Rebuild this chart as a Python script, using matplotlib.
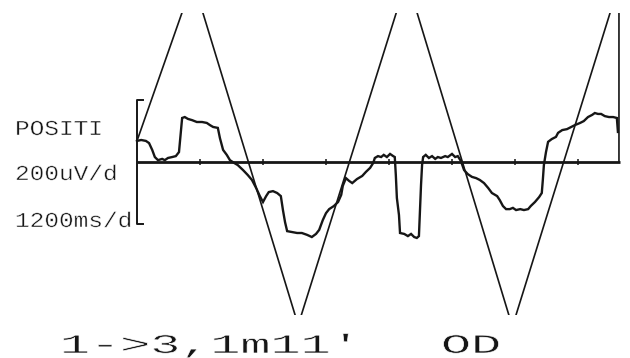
import matplotlib
matplotlib.use("Agg")
import matplotlib.pyplot as plt
from matplotlib.patheffects import AbstractPathEffect
from matplotlib.transforms import Affine2D

# Sweep settings
SWEEP_S = 9.2            # seconds shown across the trace
DIV_S = 1.2              # 1200 ms per division
DIV_UV = 200.0           # 200 uV per division

# Target (triangle sweep) vertices, seconds / microvolts
target_t = [0.00, 1.07, 3.07, 5.14, 7.15, 9.18, 9.18]
target_uv = [68, 584, -526, 590, -531, 573, 0]

# Recorded position trace, seconds / microvolts
eye_t = [0.00, 0.08, 0.17, 0.23, 0.29, 0.34, 0.40, 0.48, 0.53, 0.59,
         0.67, 0.74, 0.80, 0.84, 0.86, 0.91, 0.97, 1.05, 1.14, 1.24,
         1.33, 1.39, 1.45, 1.54, 1.58, 1.64, 1.71, 1.77, 1.85, 1.92,
         2.02, 2.11, 2.19, 2.27, 2.34, 2.40, 2.46, 2.51, 2.59, 2.67,
         2.74, 2.78, 2.82, 2.86, 2.95, 3.05, 3.14, 3.24, 3.33, 3.41,
         3.47, 3.54, 3.60, 3.66, 3.75, 3.83, 3.89, 3.92, 3.98, 4.04,
         4.10, 4.19, 4.29, 4.36, 4.44, 4.50, 4.53, 4.59, 4.65, 4.70,
         4.76, 4.82, 4.88, 4.91, 4.93, 4.95, 4.99, 5.01, 5.09, 5.16,
         5.22, 5.28, 5.33, 5.37, 5.39, 5.41, 5.43, 5.45, 5.50, 5.56,
         5.62, 5.68, 5.73, 5.79, 5.87, 5.92, 6.00, 6.06, 6.11, 6.17,
         6.23, 6.30, 6.38, 6.46, 6.53, 6.61, 6.69, 6.76, 6.86, 6.91,
         6.97, 7.03, 7.10, 7.16, 7.22, 7.30, 7.37, 7.45, 7.50, 7.58,
         7.66, 7.71, 7.73, 7.75, 7.79, 7.83, 7.90, 7.98, 8.02, 8.10,
         8.19, 8.27, 8.34, 8.44, 8.51, 8.59, 8.67, 8.72, 8.78, 8.84,
         8.91, 8.99, 9.07, 9.14, 9.16]
eye_uv = [68, 71, 68, 61, 39, 16, 6, 10, 6, 13,
          16, 19, 32, 103, 142, 145, 139, 135, 129, 129,
          126, 119, 113, 110, 77, 39, 23, 6, -3, -10,
          -26, -42, -58, -84, -110, -129, -110, -97, -94, -100,
          -110, -155, -194, -223, -226, -229, -229, -235, -242, -232,
          -219, -187, -165, -152, -142, -129, -106, -77, -52, -61,
          -68, -55, -45, -32, -19, -3, 13, 19, 16, 23,
          16, 26, 19, 16, -42, -116, -171, -229, -232, -239,
          -232, -242, -245, -239, -155, -74, -10, 16, 23, 13,
          19, 10, 16, 13, 19, 16, 26, 16, 19, 3,
          -26, -39, -48, -52, -58, -68, -84, -100, -110, -123,
          -142, -152, -152, -148, -155, -152, -155, -152, -142, -129,
          -113, -100, -58, -10, 32, 65, 74, 81, 94, 103,
          106, 113, 119, 126, 132, 145, 152, 158, 155, 155,
          148, 145, 145, 142, 97]

tick_t = [DIV_S * k for k in range(1, 8)]

side_labels = ["POSITI", "200uV/d", "1200ms/d"]
bottom_left = "1->3,1m11'"
bottom_right = "OD"

INK = "#161616"
MONO = ["Liberation Mono", "DejaVu Sans Mono"]


class Widen(AbstractPathEffect):
    """Draw text glyphs stretched horizontally about their start point,
    with strokes trimmed slightly thinner."""

    def __init__(self, sx, trim=0.0):
        super().__init__()
        self.sx = sx
        self.trim = trim

    def draw_path(self, renderer, gc, tpath, affine, rgbFace=None):
        x0, y0 = affine.transform((0, 0))
        stretch = (Affine2D().translate(-x0, -y0)
                   .scale(self.sx, 1.0).translate(x0, y0))
        tr = affine + stretch
        renderer.draw_path(gc, tpath, tr, rgbFace)
        if self.trim > 0:
            gc2 = renderer.new_gc()
            gc2.copy_properties(gc)
            gc2.set_linewidth(self.trim)
            gc2.set_foreground("white")
            renderer.draw_path(gc2, tpath, tr, None)
            gc2.restore()


fig = plt.figure(figsize=(6.3, 3.58), dpi=100, facecolor="white")
ax = fig.add_axes([130 / 630, 1 - 315 / 358, 495 / 630, 302 / 358])
ax.set_xlim(-0.133, 9.295)
ax.set_ylim(-493.5, 480.6)
ax.axis("off")

# zero line with division ticks
ax.plot([0, SWEEP_S], [0, 0], color=INK, lw=2.0, solid_capstyle="butt")
ax.vlines(tick_t, -10, 10, color=INK, lw=1.1)

# +/- one division calibration bracket
ax.plot([0.11, 0, 0, 0.11], [DIV_UV, DIV_UV, -DIV_UV, -DIV_UV],
        color=INK, lw=1.4)

# triangle target sweep
ax.plot(target_t, target_uv, color=INK, lw=1.2)

# position trace
ax.plot(eye_t, eye_uv, color=INK, lw=1.7, solid_joinstyle="miter")

for label, yb in zip(side_labels, [135, 180, 227]):
    fig.text(15 / 630, 1 - yb / 358, label, family=MONO, fontsize=15.3,
             color=INK, ha="left", va="baseline",
             path_effects=[Widen(1.15, trim=0.35)])

for label, xl in [(bottom_left, 60), (bottom_right, 441)]:
    fig.text(xl / 630, 1 - 353 / 358, label, family=MONO, fontsize=19.5,
             color=INK, ha="left", va="baseline",
             path_effects=[Widen(1.85, trim=0.5)])

fig.savefig("out.png", dpi=100, facecolor="white")
